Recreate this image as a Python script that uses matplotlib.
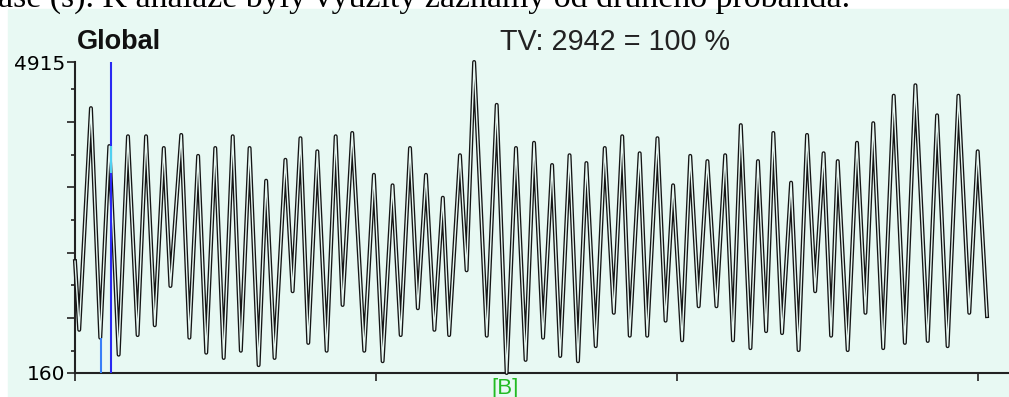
import matplotlib
matplotlib.use('Agg')
import matplotlib.pyplot as plt
from matplotlib.patches import Rectangle

# signal extrema (time, value)
t = [0.0, 0.14, 0.53, 0.84, 1.14, 1.45, 1.76, 2.08, 2.36, 2.65,
     2.95, 3.17, 3.53, 3.80, 4.09, 4.36, 4.66, 4.94, 5.24, 5.51,
     5.80, 6.10, 6.35, 6.63, 6.99, 7.23, 7.49, 7.75, 8.05, 8.36,
     8.66, 8.89, 9.21, 9.61, 9.93, 10.22, 10.55, 10.82, 11.13, 11.39,
     11.66, 11.94, 12.22, 12.43, 12.79, 13.01, 13.26, 13.68, 14.01, 14.34,
     14.65, 14.97, 15.25, 15.55, 15.85, 16.12, 16.43, 16.71, 16.99, 17.30,
     17.60, 17.90, 18.18, 18.43, 18.76, 19.01, 19.35, 19.62, 19.87, 20.17,
     20.44, 20.72, 21.01, 21.31, 21.60, 21.86, 22.12, 22.44, 22.69, 22.96,
     23.20, 23.49, 23.79, 24.04, 24.32, 24.59, 24.87, 25.12, 25.34, 25.67,
     25.98, 26.26, 26.52, 26.85, 27.20, 27.57, 27.92, 28.33, 28.64, 28.99,
     29.35, 29.71, 29.99, 30.30]
v = [1870, 820, 4210, 700, 3630, 440, 3780, 740, 3780, 890,
     3600, 1490, 3800, 700, 3480, 470, 3600, 390, 3780, 500,
     3600, 280, 3100, 390, 3420, 1410, 3750, 620, 3550, 500,
     3780, 1200, 3830, 500, 3190, 340, 3030, 740, 3600, 1150,
     3190, 820, 2840, 740, 3490, 1730, 4915, 730, 4260, 160,
     3600, 360, 3680, 700, 3340, 420, 3490, 340, 3370, 570,
     3600, 1080, 3780, 730, 3520, 730, 3750, 960, 3030, 660,
     3480, 1180, 3400, 1180, 3490, 660, 3950, 540, 3400, 800,
     3830, 770, 3070, 510, 3800, 1410, 3520, 730, 3400, 510,
     3680, 1080, 3980, 540, 4400, 620, 4560, 650, 4100, 570,
     4400, 1080, 3550, 1030]

ymin, ymax = 160, 4915
ymajor = [1000, 2000, 3000, 4000]
yminor = [500, 1500, 2500, 3500, 4500]
xticks = [0, 10, 20, 30]

cursor_a = 0.86   # light blue marker
cursor_b = 1.21   # dark blue marker
b_mark = 14.34

mint = '#e8f9f3'

fig = plt.figure(figsize=(10.09, 3.97), dpi=100)
fig.patches.append(Rectangle((8/1009, 0), 1, 388/397, transform=fig.transFigure,
                             color=mint, zorder=-1))

# cut-off line of document text above the chart
fig.text(-2/1009, 1 - 7/397, 'ase (s). K analáze byly využity záznamy od druhého probanda.',
         family='Liberation Serif', fontsize=24.4, va='baseline', ha='left')

ax = fig.add_axes([75/1009, 24/397, 934/1009, 311/397])
ax.set_facecolor('none')
ax.set_xlim(0, 934/30.1)
ax.set_ylim(ymin, ymax)

# hollow-looking trace
ax.plot(t, v, color='#151515', lw=2.9, clip_on=False, zorder=3)
ax.plot(t, v, color=mint, lw=1.0, clip_on=False, zorder=4)

ax.vlines(cursor_a, ymin, 700, color='#3a7ff8', lw=1.5, zorder=5)
ax.vlines(cursor_b, ymin, ymax, color='#2a2af2', lw=1.5, zorder=5)
ax.vlines(cursor_b, 3220, 3630, color='#50d0f0', lw=1.5, zorder=6)

for s in ['top', 'right']:
    ax.spines[s].set_visible(False)
for s in ['left', 'bottom']:
    ax.spines[s].set_color('#222222')
    ax.spines[s].set_linewidth(1.5)

ax.set_yticks([ymin] + ymajor + [ymax], ['160', '', '', '', '', '4915'])
ax.set_yticks(yminor, minor=True)
ax.set_xticks(xticks, ['', '', '', ''])
ax.tick_params(axis='y', which='major', length=6, width=1.2, color='#222222',
               labelsize=14.5, pad=1)
ax.tick_params(axis='y', which='minor', length=3, width=1.2, color='#222222')
ax.tick_params(axis='x', length=6, width=1.2, color='#222222')

ax.annotate('[B]', xy=(b_mark, ymin), xytext=(-1, -3.5), textcoords='offset points',
            ha='center', va='top', color='#22bb22', fontsize=16,
            family='Liberation Sans', annotation_clip=False)

fig.text(77/1009, 1 - 49/397, 'Global', fontweight='bold', fontsize=19.5,
         family='Liberation Sans', va='baseline', color='#111111')
fig.text(500/1009, 1 - 50/397, 'TV: 2942 = 100 %', fontsize=20.7,
         family='Liberation Sans', va='baseline', color='#222222')

fig.savefig('out.png', dpi=100)
